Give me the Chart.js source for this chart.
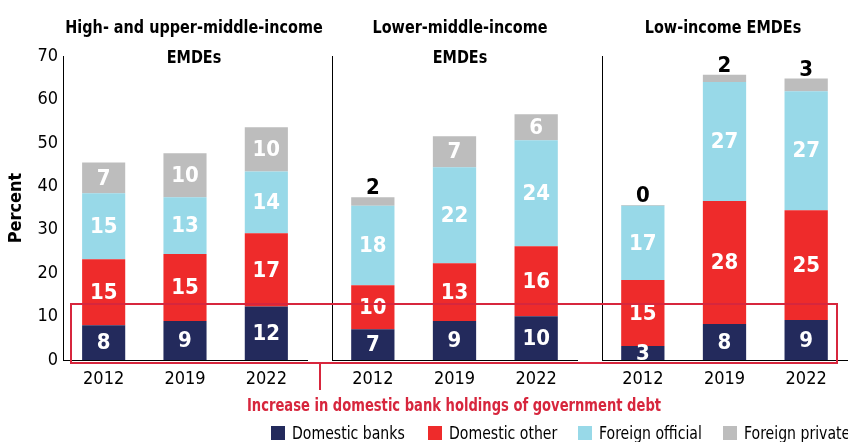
<!DOCTYPE html>
<html>
<head>
<meta charset="utf-8">
<script src="https://cdn.jsdelivr.net/npm/chart.js@4.4.1/dist/chart.umd.min.js"></script>
<style>
  body { margin: 0; background: #fff; }
  #wrap { position: relative; width: 848px; height: 442px; overflow: hidden;
          font-family: "DejaVu Sans Condensed", "Liberation Sans Narrow", Roboto, sans-serif; color: #000; }
  .panel { position: absolute; top: 0; height: 442px; }
  .ptitle { position: absolute; top: 12px; width: 340px; text-align: center; font-weight: bold;
            font-size: 18px; line-height: 30px; transform: translateX(-50%) scaleX(0.89); }
  #box { position: absolute; left: 70px; top: 303px; width: 768px; height: 61px;
         border: 2px solid #d7263d; box-sizing: border-box; }
  #stem { position: absolute; left: 319px; top: 363px; width: 2px; height: 27px; background: #d7263d; }
  #note { position: absolute; left: 454px; top: 394px; transform: translateX(-50%) scaleX(0.81); white-space: nowrap;
          color: #d7263d; font-weight: bold; font-size: 18px; }
  .leg { position: absolute; top: 424px; font-size: 17px; white-space: nowrap; line-height: 18px; }
  .leg i { display: inline-block; width: 14px; height: 14px; margin-right: 7px; vertical-align: -1px; }
  .leg span { display: inline-block; transform: scaleX(0.92); transform-origin: left center; }
</style>
</head>
<body>
<div id="wrap">
  <div class="panel" style="left:0;width:310px"><canvas id="c0"></canvas></div>
  <div class="panel" style="left:310px;width:270px"><canvas id="c1"></canvas></div>
  <div class="panel" style="left:580px;width:268px"><canvas id="c2"></canvas></div>
  <div class="ptitle" style="left:194px">High- and upper-middle-income<br>EMDEs</div>
  <div class="ptitle" style="left:460px">Lower-middle-income<br>EMDEs</div>
  <div class="ptitle" style="left:723px">Low-income EMDEs</div>
  <div id="box"></div>
  <div id="stem"></div>
  <div id="note">Increase in domestic bank holdings of government debt</div>
  <div class="leg" style="left:271px"><i style="background:#232a5c"></i><span>Domestic banks</span></div>
  <div class="leg" style="left:428px"><i style="background:#ee2b2b"></i><span>Domestic other</span></div>
  <div class="leg" style="left:578px"><i style="background:#98d9e8"></i><span>Foreign official</span></div>
  <div class="leg" style="left:723px"><i style="background:#bdbdbd"></i><span>Foreign private</span></div>
</div>
<script>
const FONT = '"DejaVu Sans Condensed", "Liberation Sans Narrow", Roboto, sans-serif';

// categories
const years = ['2012', '2019', '2022'];

// share of government debt held, percent (one inner array per panel:
// high/upper-middle, lower-middle, low income)
const domesticBanks   = [[8.0, 9.0, 12.3], [7.1, 9.0, 10.1], [3.2, 8.3, 9.2]];
const domesticOther   = [[15.2, 15.4, 16.9], [10.1, 13.3, 16.1], [15.2, 28.3, 25.3]];
const foreignOfficial = [[15.2, 13.1, 14.2], [18.3, 22.1, 24.4], [17.1, 27.4, 27.4]];
const foreignPrivate  = [[7.1, 10.1, 10.2], [2.0, 7.1, 6.0], [0.2, 1.7, 2.9]];

const seriesNames  = ['Domestic banks', 'Domestic other', 'Foreign official', 'Foreign private'];
const seriesColors = ['#232a5c', '#ee2b2b', '#98d9e8', '#bdbdbd'];

// numbers on the bars; a thin top slice gets its label above in black
const barLabels = {
  id: 'barLabels',
  afterDatasetsDraw(chart) {
    const ctx = chart.ctx;
    ctx.save();
    ctx.font = 'bold 22px ' + FONT;
    ctx.textAlign = 'center';
    chart.data.datasets.forEach((ds, i) => {
      chart.getDatasetMeta(i).data.forEach((bar, j) => {
        const v = ds.data[j];
        const txt = String(Math.round(v));
        if (i === 3 && v < 4) {
          ctx.fillStyle = '#000';
          ctx.textBaseline = 'alphabetic';
          ctx.fillText(txt, bar.x, bar.y - 3);
        } else {
          ctx.fillStyle = '#fff';
          ctx.textBaseline = 'middle';
          ctx.fillText(txt, bar.x, (bar.y + bar.base) / 2 + 1);
        }
      });
    });
    ctx.restore();
  }
};

function makePanel(id, p, first, padRight) {
  const series = [domesticBanks, domesticOther, foreignOfficial, foreignPrivate];
  new Chart(document.getElementById(id), {
    type: 'bar',
    data: {
      labels: years,
      datasets: series.map((s, i) => ({
        label: seriesNames[i],
        data: s[p],
        backgroundColor: seriesColors[i],
        barPercentage: 0.53,
        categoryPercentage: 1
      }))
    },
    options: {
      responsive: true,
      maintainAspectRatio: false,
      animation: false,
      layout: { padding: { top: 56, right: padRight, left: 0, bottom: 0 } },
      plugins: { legend: { display: false }, tooltip: { enabled: false } },
      scales: {
        x: {
          stacked: true,
          grid: { display: false, drawTicks: false },
          border: { color: '#000', width: 1 },
          ticks: { color: '#000', font: { family: FONT, size: 18 }, padding: 9 },
          afterFit(s) { s.height = 82; }
        },
        y: {
          stacked: true,
          min: 0,
          max: 70,
          grid: { display: false, drawTicks: false },
          border: { color: '#000', width: 1 },
          ticks: { display: first, stepSize: 10, color: '#000', font: { family: FONT, size: 18 }, padding: 5 },
          title: { display: first, text: 'Percent', color: '#000', padding: { top: 6, bottom: 0 },
                   font: { family: FONT, size: 18, weight: 'bold' } },
          afterFit(s) { s.width = first ? 63 : 22; }
        }
      }
    },
    plugins: [barLabels]
  });
}

makePanel('c0', 0, true, 3);
makePanel('c1', 1, false, 3);
makePanel('c2', 2, false, 1);
</script>
</body>
</html>
